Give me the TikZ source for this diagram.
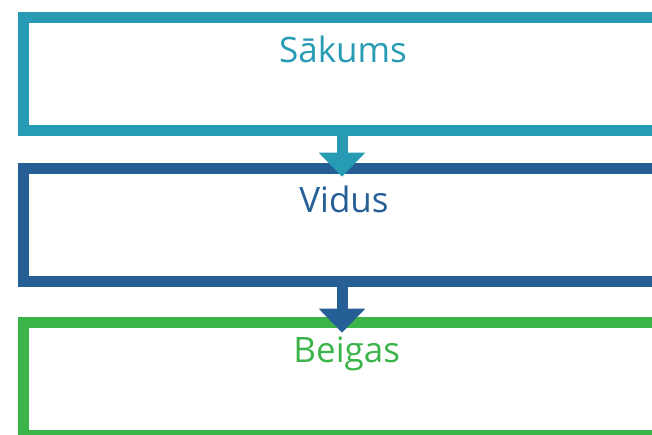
\documentclass[tikz,border=0pt]{standalone}
\usepackage{fontspec}
\setmainfont{Open Sans}
\usetikzlibrary{arrows.meta}
\definecolor{cteal}{HTML}{279BB3}
\definecolor{cblue}{HTML}{265F96}
\definecolor{cgreen}{HTML}{3BB44A}
\begin{document}
\begin{tikzpicture}[x=1pt,y=-1pt,
  stagebox/.style={draw=#1, line width=10.7pt, minimum width=676.5pt, outer sep=0pt, inner sep=0pt},
  flow/.style={draw=#1, line width=11pt, -{Triangle[width=45pt,length=24pt]}, #1},
  label/.style={text=#1, font=\fontsize{35}{40}\selectfont, anchor=base, inner sep=0pt}]
  \useasboundingbox (0,0) rectangle (652,435);
  \clip (0,0) rectangle (652,435);
  \coordinate (ax) at (342,0);
  % stage frames, open to the right
  \node[stagebox=cteal, minimum height=112.8pt] (b1) at (361.75,73.9) {};
  \node[stagebox=cblue, minimum height=113pt] (b2) at (361.75,224.8) {};
  \draw[flow=cteal] (b1.south -| ax) -- ([yshift=-8.4pt]b2.north -| ax);
  \node[stagebox=cgreen, minimum height=113.5pt] (b3) at (361.75,379.05) {};
  \draw[flow=cblue] (b2.south -| ax) -- ([yshift=-10.4pt]b3.north -| ax);
  % titles
  \node[label=cteal] (t1) at (343,62.3) {Sākums};
  \node[label=cblue] (t2) at (344,212.3) {Vidus};
  \node[label=cgreen] (t3) at (346.7,362.7) {Beigas};
\end{tikzpicture}
\end{document}
